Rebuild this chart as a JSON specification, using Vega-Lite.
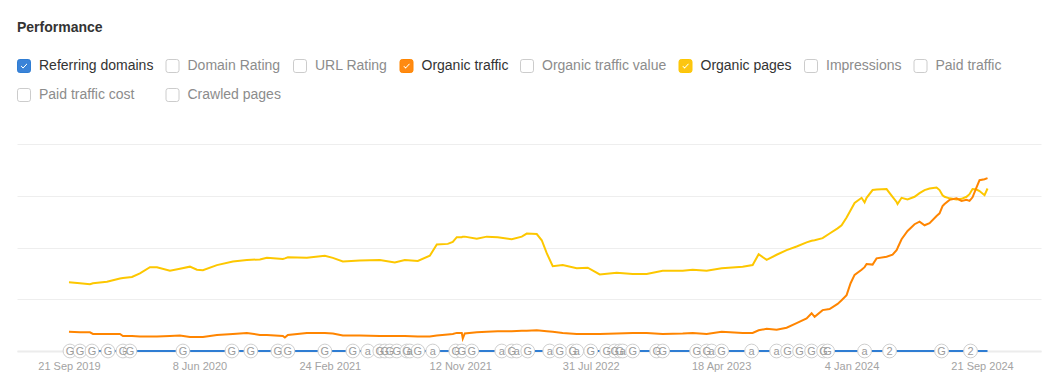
{
  "$schema": "https://vega.github.io/schema/vega-lite/v6.json",
  "autosize": "none",
  "width": 1024,
  "height": 207,
  "padding": {"left": 17, "top": 144, "right": 18, "bottom": 38},
  "background": "#ffffff",
  "title": {"text": "Performance", "anchor": "start", "frame": "group", "orient": "top", "fontSize": 14, "fontWeight": "bold", "color": "#333333", "font": "Liberation Sans", "offset": 24},
  "config": {"view": {"stroke": null}, "font": "Liberation Sans", "legend": {"gridAlign": "none"}},
  "datasets": {
    "lines": [
      {"date":"2019-09-21","Organic pages":133,"Organic traffic":37},
      {"date":"2019-10-13","Organic pages":131,"Organic traffic":36},
      {"date":"2019-11-02","Organic pages":129,"Organic traffic":36},
      {"date":"2019-11-08","Organic pages":131,"Organic traffic":33},
      {"date":"2019-12-06","Organic pages":134,"Organic traffic":33},
      {"date":"2020-01-01","Organic pages":140,"Organic traffic":33},
      {"date":"2020-01-07","Organic pages":141,"Organic traffic":29},
      {"date":"2020-01-25","Organic pages":143,"Organic traffic":29},
      {"date":"2020-02-10","Organic pages":150,"Organic traffic":28},
      {"date":"2020-03-01","Organic pages":162,"Organic traffic":28},
      {"date":"2020-03-15","Organic pages":162,"Organic traffic":28},
      {"date":"2020-04-10","Organic pages":155,"Organic traffic":29},
      {"date":"2020-04-30","Organic pages":159,"Organic traffic":30},
      {"date":"2020-05-20","Organic pages":163,"Organic traffic":27},
      {"date":"2020-06-03","Organic pages":157,"Organic traffic":27},
      {"date":"2020-06-15","Organic pages":156,"Organic traffic":27},
      {"date":"2020-07-13","Organic pages":166,"Organic traffic":31},
      {"date":"2020-08-14","Organic pages":173,"Organic traffic":33},
      {"date":"2020-09-11","Organic pages":176,"Organic traffic":35},
      {"date":"2020-10-07","Organic pages":177,"Organic traffic":31},
      {"date":"2020-10-21","Organic pages":180,"Organic traffic":31},
      {"date":"2020-11-22","Organic pages":178,"Organic traffic":29},
      {"date":"2020-11-26","Organic pages":179,"Organic traffic":26},
      {"date":"2020-12-02","Organic pages":181,"Organic traffic":31},
      {"date":"2021-01-09","Organic pages":180,"Organic traffic":35},
      {"date":"2021-02-14","Organic pages":184,"Organic traffic":35},
      {"date":"2021-03-02","Organic pages":180,"Organic traffic":34},
      {"date":"2021-03-22","Organic pages":173,"Organic traffic":30},
      {"date":"2021-04-25","Organic pages":175,"Organic traffic":30},
      {"date":"2021-06-04","Organic pages":176,"Organic traffic":29},
      {"date":"2021-07-04","Organic pages":171,"Organic traffic":29},
      {"date":"2021-07-24","Organic pages":176,"Organic traffic":29},
      {"date":"2021-08-19","Organic pages":174,"Organic traffic":28},
      {"date":"2021-09-12","Organic pages":184,"Organic traffic":28},
      {"date":"2021-09-26","Organic pages":206,"Organic traffic":30},
      {"date":"2021-10-18","Organic pages":207,"Organic traffic":32},
      {"date":"2021-10-28","Organic pages":211,"Organic traffic":33},
      {"date":"2021-11-05","Organic pages":220,"Organic traffic":35},
      {"date":"2021-11-15","Organic pages":220,"Organic traffic":35},
      {"date":"2021-11-17","Organic pages":221,"Organic traffic":24},
      {"date":"2021-11-21","Organic pages":221,"Organic traffic":34},
      {"date":"2021-12-15","Organic pages":217,"Organic traffic":36},
      {"date":"2022-01-04","Organic pages":221,"Organic traffic":37},
      {"date":"2022-01-26","Organic pages":220,"Organic traffic":38},
      {"date":"2022-02-23","Organic pages":216,"Organic traffic":38},
      {"date":"2022-03-15","Organic pages":221,"Organic traffic":39},
      {"date":"2022-03-25","Organic pages":227,"Organic traffic":39},
      {"date":"2022-04-14","Organic pages":226,"Organic traffic":40},
      {"date":"2022-04-24","Organic pages":214,"Organic traffic":39},
      {"date":"2022-05-04","Organic pages":189,"Organic traffic":38},
      {"date":"2022-05-16","Organic pages":164,"Organic traffic":37},
      {"date":"2022-06-05","Organic pages":166,"Organic traffic":35},
      {"date":"2022-07-03","Organic pages":160,"Organic traffic":33},
      {"date":"2022-07-25","Organic pages":161,"Organic traffic":33},
      {"date":"2022-08-18","Organic pages":148,"Organic traffic":33},
      {"date":"2022-09-21","Organic pages":151,"Organic traffic":34},
      {"date":"2022-10-23","Organic pages":149,"Organic traffic":35},
      {"date":"2022-11-20","Organic pages":149,"Organic traffic":35},
      {"date":"2022-12-22","Organic pages":155,"Organic traffic":33},
      {"date":"2023-01-31","Organic pages":155,"Organic traffic":34},
      {"date":"2023-02-20","Organic pages":157,"Organic traffic":35},
      {"date":"2023-03-20","Organic pages":155,"Organic traffic":33},
      {"date":"2023-04-19","Organic pages":160,"Organic traffic":37},
      {"date":"2023-05-31","Organic pages":163,"Organic traffic":35},
      {"date":"2023-06-20","Organic pages":166,"Organic traffic":35},
      {"date":"2023-07-02","Organic pages":187,"Organic traffic":40},
      {"date":"2023-07-18","Organic pages":176,"Organic traffic":43},
      {"date":"2023-08-07","Organic pages":186,"Organic traffic":41},
      {"date":"2023-08-27","Organic pages":195,"Organic traffic":45},
      {"date":"2023-09-16","Organic pages":202,"Organic traffic":54},
      {"date":"2023-10-06","Organic pages":210,"Organic traffic":63},
      {"date":"2023-10-16","Organic pages":213,"Organic traffic":73},
      {"date":"2023-10-22","Organic pages":214,"Organic traffic":66},
      {"date":"2023-11-07","Organic pages":218,"Organic traffic":79},
      {"date":"2023-11-21","Organic pages":227,"Organic traffic":81},
      {"date":"2023-12-07","Organic pages":237,"Organic traffic":91},
      {"date":"2023-12-15","Organic pages":243,"Organic traffic":98},
      {"date":"2023-12-25","Organic pages":258,"Organic traffic":108},
      {"date":"2024-01-02","Organic pages":272,"Organic traffic":131},
      {"date":"2024-01-10","Organic pages":286,"Organic traffic":147},
      {"date":"2024-01-24","Organic pages":296,"Organic traffic":157},
      {"date":"2024-01-30","Organic pages":287,"Organic traffic":162},
      {"date":"2024-02-03","Organic pages":296,"Organic traffic":168},
      {"date":"2024-02-15","Organic pages":311,"Organic traffic":167},
      {"date":"2024-02-23","Organic pages":312,"Organic traffic":179},
      {"date":"2024-03-14","Organic pages":313,"Organic traffic":182},
      {"date":"2024-03-26","Organic pages":298,"Organic traffic":186},
      {"date":"2024-04-03","Organic pages":288,"Organic traffic":195},
      {"date":"2024-04-05","Organic pages":284,"Organic traffic":199},
      {"date":"2024-04-13","Organic pages":296,"Organic traffic":216},
      {"date":"2024-04-25","Organic pages":293,"Organic traffic":232},
      {"date":"2024-05-09","Organic pages":298,"Organic traffic":245},
      {"date":"2024-05-19","Organic pages":305,"Organic traffic":250},
      {"date":"2024-05-29","Organic pages":311,"Organic traffic":243},
      {"date":"2024-06-08","Organic pages":314,"Organic traffic":247},
      {"date":"2024-06-22","Organic pages":316,"Organic traffic":261},
      {"date":"2024-06-28","Organic pages":311,"Organic traffic":266},
      {"date":"2024-07-04","Organic pages":301,"Organic traffic":280},
      {"date":"2024-07-08","Organic pages":298,"Organic traffic":284},
      {"date":"2024-07-18","Organic pages":295,"Organic traffic":292},
      {"date":"2024-08-01","Organic pages":293,"Organic traffic":295},
      {"date":"2024-08-11","Organic pages":294,"Organic traffic":290},
      {"date":"2024-08-21","Organic pages":298,"Organic traffic":292},
      {"date":"2024-08-27","Organic pages":303,"Organic traffic":290},
      {"date":"2024-09-02","Organic pages":313,"Organic traffic":297},
      {"date":"2024-09-10","Organic pages":312,"Organic traffic":316},
      {"date":"2024-09-16","Organic pages":309,"Organic traffic":330},
      {"date":"2024-09-26","Organic pages":301,"Organic traffic":332},
      {"date":"2024-10-02","Organic pages":314,"Organic traffic":334}
    ],
    "domains": [
      {"date":"2019-09-21","series":"Referring domains","value":0},
      {"date":"2024-10-02","series":"Referring domains","value":0}
    ],
    "updates": [
      {"date":"2019-09-23","type":"G"},{"date":"2019-10-13","type":"G"},{"date":"2019-11-06","type":"G"},
      {"date":"2019-12-08","type":"G"},{"date":"2020-01-07","type":"G"},{"date":"2020-01-21","type":"G"},
      {"date":"2020-05-06","type":"G"},{"date":"2020-08-12","type":"G"},{"date":"2020-09-19","type":"G"},
      {"date":"2020-11-12","type":"G"},{"date":"2020-12-02","type":"G"},{"date":"2021-02-14","type":"G"},
      {"date":"2021-04-11","type":"G"},{"date":"2021-05-11","type":"a"},{"date":"2021-06-04","type":"G"},
      {"date":"2021-06-14","type":"G"},{"date":"2021-06-24","type":"G"},{"date":"2021-07-08","type":"G"},
      {"date":"2021-07-28","type":"G"},{"date":"2021-08-03","type":"a"},{"date":"2021-08-19","type":"G"},
      {"date":"2021-09-18","type":"a"},{"date":"2021-11-03","type":"G"},{"date":"2021-11-15","type":"G"},
      {"date":"2021-12-05","type":"G"},{"date":"2022-02-03","type":"a"},{"date":"2022-02-23","type":"G"},
      {"date":"2022-03-05","type":"a"},{"date":"2022-03-27","type":"G"},{"date":"2022-05-10","type":"a"},
      {"date":"2022-05-30","type":"G"},{"date":"2022-06-25","type":"G"},{"date":"2022-07-03","type":"a"},
      {"date":"2022-07-31","type":"G"},{"date":"2022-09-01","type":"G"},{"date":"2022-09-17","type":"G"},
      {"date":"2022-09-27","type":"G"},{"date":"2022-10-03","type":"a"},{"date":"2022-10-23","type":"G"},
      {"date":"2022-12-10","type":"G"},{"date":"2022-12-22","type":"G"},{"date":"2023-02-28","type":"G"},
      {"date":"2023-03-20","type":"G"},{"date":"2023-03-30","type":"a"},{"date":"2023-04-19","type":"G"},
      {"date":"2023-06-18","type":"a"},{"date":"2023-08-07","type":"a"},{"date":"2023-08-29","type":"G"},
      {"date":"2023-09-22","type":"G"},{"date":"2023-10-16","type":"G"},{"date":"2023-11-09","type":"G"},
      {"date":"2023-11-17","type":"G"},{"date":"2024-01-30","type":"a"},{"date":"2024-03-20","type":"2"},
      {"date":"2024-07-02","type":"G"},{"date":"2024-08-29","type":"2"}
    ]
  },
  "layer": [
    {
      "data": {"name": "lines"},
      "transform": [{"fold": ["Organic pages", "Organic traffic"], "as": ["series", "value"]}],
      "mark": {"type": "line", "strokeWidth": 2, "interpolate": "linear"},
      "encoding": {
        "x": {
          "field": "date", "type": "temporal",
          "scale": {"type": "utc", "domain": [{"year": 2019, "month": 6, "date": 9, "utc": true}, {"year": 2025, "month": 1, "date": 17, "utc": true}]},
          "axis": {
            "title": null, "grid": false, "ticks": false, "domain": true, "domainColor": "#ececec", "domainWidth": 2,
            "labelColor": "#a3a3a3", "labelFontSize": 11, "labelFont": "Liberation Sans", "labelPadding": 9, "labelFlush": false, "labelOverlap": false,
            "labelExpr": "utcFormat(datum.value, '%-d %b %Y')",
            "values": [
              {"year": 2019, "month": 9, "date": 21, "utc": true},
              {"year": 2020, "month": 6, "date": 8, "utc": true},
              {"year": 2021, "month": 2, "date": 24, "utc": true},
              {"year": 2021, "month": 11, "date": 12, "utc": true},
              {"year": 2022, "month": 7, "date": 31, "utc": true},
              {"year": 2023, "month": 4, "date": 18, "utc": true},
              {"year": 2024, "month": 1, "date": 4, "utc": true},
              {"year": 2024, "month": 9, "date": 21, "utc": true}
            ]
          }
        },
        "y": {
          "field": "value", "type": "quantitative",
          "scale": {"domain": [0, 400], "nice": false, "zero": true},
          "axis": {"title": null, "labels": false, "ticks": false, "domain": false, "grid": true, "gridColor": "#eeeeee", "gridWidth": 1, "values": [0, 100, 200, 300, 400]}
        },
        "color": {
          "field": "series", "type": "nominal",
          "scale": {
            "domain": ["Referring domains", "Domain Rating", "URL Rating", "Organic traffic", "Organic traffic value", "Organic pages", "Impressions", "Paid traffic", "Paid traffic cost", "Crawled pages"],
            "range": ["#2f7dd3", "#cccccc", "#cccccc", "#ff8500", "#cccccc", "#fdc700", "#cccccc", "#cccccc", "#cccccc", "#cccccc"]
          },
          "legend": {
            "title": null, "orient": "none", "legendX": 0, "legendY": -85, "direction": "horizontal", "columns": 8, "gridAlign": "none",
            "columnPadding": 9.5, "rowPadding": 11, "padding": 0, "offset": 0,
            "symbolSize": 169, "symbolStrokeWidth": 1, "symbolType": "square",
            "labelFont": "Liberation Sans", "labelFontSize": 14, "labelOffset": 8, "labelLimit": 300, "labelColor": "#333333",
            "encode": {
              "symbols": {
                "update": {
                  "fill": {"signal": "datum.value === 'Referring domains' ? '#3b83d8' : datum.value === 'Organic traffic' ? '#ff8a12' : datum.value === 'Organic pages' ? '#fcc512' : '#ffffff'"},
                  "stroke": {"signal": "datum.value === 'Referring domains' ? '#3b83d8' : datum.value === 'Organic traffic' ? '#ff8a12' : datum.value === 'Organic pages' ? '#fcc512' : '#cdcdcd'"},
                  "shape": {"signal": "indexof(['Referring domains','Organic traffic','Organic pages'], datum.value) >= 0 ? 'M-0.65,-1L0.65,-1Q1,-1 1,-0.65L1,0.65Q1,1 0.65,1L-0.65,1Q-1,1 -1,0.65L-1,-0.65Q-1,-1 -0.65,-1ZM-0.55,0.05L-0.15,0.5L0.6,-0.3L0.42,-0.48L-0.15,0.14L-0.37,-0.12Z' : 'M-0.65,-1L0.65,-1Q1,-1 1,-0.65L1,0.65Q1,1 0.65,1L-0.65,1Q-1,1 -1,0.65L-1,-0.65Q-1,-1 -0.65,-1Z'"},
                  "strokeWidth": {"value": 1},
                  "opacity": {"value": 1}
                }
              },
              "labels": {
                "update": {
                  "fill": {"signal": "indexof(['Referring domains','Organic traffic','Organic pages'], datum.value) >= 0 ? '#333333' : '#8c8c8c'"}
                }
              }
            }
          }
        }
      }
    },
    {
      "data": {"name": "domains"},
      "mark": {"type": "line", "strokeWidth": 2},
      "encoding": {
        "x": {"field": "date", "type": "temporal"},
        "y": {"field": "value", "type": "quantitative"},
        "color": {"field": "series", "type": "nominal"}
      }
    },
    {
      "data": {"name": "updates"},
      "mark": {"type": "point", "shape": "circle", "filled": true, "fill": "#ffffff", "stroke": "#cfcfcf", "strokeWidth": 1, "size": 190, "opacity": 1},
      "encoding": {
        "x": {"field": "date", "type": "temporal"},
        "y": {"datum": 0}
      }
    },
    {
      "data": {"name": "updates"},
      "mark": {"type": "text", "color": "#9b9b9b", "fontSize": 11, "font": "Liberation Sans", "align": "center", "baseline": "middle", "dy": 0.5},
      "encoding": {
        "x": {"field": "date", "type": "temporal"},
        "y": {"datum": 0},
        "text": {"field": "type"}
      }
    }
  ]
}
